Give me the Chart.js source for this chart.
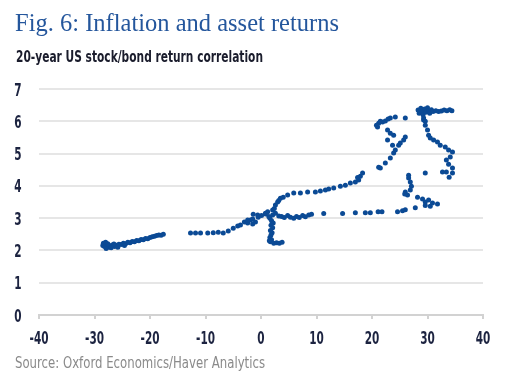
<!DOCTYPE html>
<html>
<head>
<meta charset="utf-8">
<script src="https://cdn.jsdelivr.net/npm/chart.js@4.4.1/dist/chart.umd.min.js"></script>
<style>
  html, body { margin: 0; padding: 0; background: #fff; }
  #wrap { width: 532px; height: 388px; position: relative; }
</style>
</head>
<body>
<div id="wrap"><canvas id="chart" width="532" height="388"></canvas></div>
<script>
// x: 20-year US stock/bond return correlation, y: inflation
const stockBondCorr = [
  -28.5, -28.2, -27.8, -27.5, -27.2, -26.8, -26.4, -26.0, -25.6, -25.2, -24.8, -24.4, -24.0, -23.6, -23.2,
  -22.8, -22.4, -22.0, -21.6, -21.2, -20.8, -20.4, -20.0, -19.6, -19.2, -18.8, -18.4, -18.0, -17.6,
  -28.4, -27.9, -27.0, -26.5, -28.0, -27.6, -25.8, -24.6,
  -12.7, -11.8, -10.9, -9.6, -8.6, -7.7, -6.8, -5.9, -5.0, -4.2, -3.7, -3.0, -2.4, -1.9, -1.5, -1.0, -2.4, -1.5, -0.5,
  -1.4, -0.6, 0.1, 0.8, 1.4, 2.1, 2.6, 3.2, 3.7, 4.2, 4.8, 5.3, 5.9, 6.4, 6.9, 7.5, 8.0, 8.6, 9.1,
  1.6, 1.9, 2.2, 1.8, 2.1, 1.7, 2.0, 1.8, 1.6, 1.9, 1.7, 2.3, 2.8, 3.3, 3.8, 1.5,
  0.8, 1.2, 2.1, 2.4, 2.6, 3.0, 3.2, 3.5, 4.0, 4.8,
  5.9, 7.1, 8.4, 9.8, 10.7, 11.6, 12.2, 13.1, 14.3, 15.2, 16.1, 17.0, 17.6, 17.9, 18.3, 17.4,
  21.2, 21.5, 22.4, 23.3, 23.9, 24.2, 24.8, 25.1, 25.7, 26.0,
  22.8, 23.9, 22.8, 23.3, 23.7,
  21.0, 21.2, 21.9, 22.4, 23.3, 24.2, 26.0, 20.8, 21.5, 22.9,
  28.3, 28.5, 28.8, 29.0, 29.2, 29.5, 29.7, 30.0, 30.2, 30.4, 30.7, 31.0, 31.5, 32.0, 32.5, 33.0, 33.5, 34.0, 34.4, 29.3, 29.6,
  29.3, 29.6, 30.0, 30.2, 30.5, 31.1, 31.8, 32.3, 33.2, 33.8, 34.5, 34.1, 33.4, 33.8, 34.5, 34.5, 33.9, 33.4,
  29.6, 32.7,
  26.6, 26.6, 26.9, 27.1, 26.9, 26.0, 26.4, 25.9, 28.2, 29.1, 29.6, 30.2, 30.9, 30.5, 31.8,
  11.3, 14.7, 17.0, 18.8, 19.7, 21.1, 21.8, 24.6, 25.5, 26.0, 27.8, 29.6
];
const inflation = [
  2.15, 2.12, 2.18, 2.10, 2.14, 2.17, 2.12, 2.16, 2.19, 2.18, 2.22, 2.21, 2.25, 2.24, 2.28,
  2.27, 2.31, 2.30, 2.34, 2.33, 2.37, 2.36, 2.40, 2.42, 2.44, 2.46, 2.48, 2.47, 2.50,
  2.22, 2.06, 2.08, 2.20, 2.25, 2.21, 2.10, 2.15,
  2.54, 2.54, 2.54, 2.54, 2.55, 2.56, 2.54, 2.60, 2.69, 2.76, 2.79, 2.88, 2.85, 2.94, 2.82, 2.88, 2.94, 2.97, 3.03,
  3.12, 3.10, 3.08, 3.13, 3.05, 3.10, 3.15, 3.07, 3.05, 3.02, 3.08, 3.03, 3.00, 3.05, 3.02, 3.08, 3.04, 3.10, 3.12,
  3.00, 2.92, 2.85, 2.78, 2.70, 2.62, 2.55, 2.48, 2.40, 2.33, 2.27, 2.22, 2.24, 2.22, 2.25, 2.30,
  3.15, 3.20, 3.25, 3.30, 3.41, 3.50, 3.55, 3.62, 3.65, 3.72,
  3.78, 3.78, 3.81, 3.81, 3.84, 3.87, 3.90, 3.93, 3.99, 4.02, 4.09, 4.12, 4.18, 4.30, 4.40, 4.26,
  4.58, 4.55, 4.71, 4.86, 5.02, 5.11, 5.26, 5.33, 5.42, 5.51,
  5.73, 5.57, 5.42, 5.63, 5.26,
  5.82, 5.94, 5.98, 6.01, 6.10, 6.13, 6.10, 5.88, 6.00, 6.07,
  6.35, 6.25, 6.40, 6.30, 6.20, 6.38, 6.28, 6.42, 6.33, 6.25, 6.36, 6.30, 6.33, 6.30, 6.32, 6.35, 6.33, 6.36, 6.33, 6.10, 6.00,
  6.04, 5.88, 5.73, 5.57, 5.48, 5.42, 5.36, 5.26, 5.20, 5.11, 5.05, 4.89, 4.80, 4.67, 4.55, 4.40, 4.27, 4.43,
  4.40, 4.43,
  4.33, 4.24, 4.12, 3.99, 3.87, 3.81, 3.72, 3.75, 3.65, 3.59, 3.50, 3.56, 3.47, 3.37, 3.44,
  3.14, 3.14, 3.17, 3.17, 3.17, 3.20, 3.20, 3.20, 3.23, 3.26, 3.32, 3.39
];
const xTicks = [-40, -30, -20, -10, 0, 10, 20, 30, 40];
const yTicks = [0, 1, 2, 3, 4, 5, 6, 7];

const titleText = "Fig. 6: Inflation and asset returns";
const subtitleText = "20-year US stock/bond return correlation";
const sourceText = "Source: Oxford Economics/Haver Analytics";

const points = stockBondCorr.map((x, i) => ({ x: x, y: inflation[i] }));
const condensed = "'Liberation Sans Narrow', 'DejaVu Sans Condensed', sans-serif";

// draw text squeezed/stretched horizontally to a target width
function drawFitted(ctx, text, x, y, font, width, align) {
  ctx.font = font;
  const k = width ? width / ctx.measureText(text).width : 1;
  ctx.save();
  ctx.translate(x, y);
  ctx.scale(k, 1);
  ctx.textAlign = align || "left";
  ctx.fillText(text, 0, 0);
  ctx.restore();
}

// texts and narrow tick labels drawn on top, placed through the chart's scales
const textPlugin = {
  id: "texts",
  afterDraw(chart) {
    const ctx = chart.ctx;
    ctx.save();
    ctx.textBaseline = "alphabetic";
    ctx.fillStyle = "#24569c";
    drawFitted(ctx, titleText, 15, 31, "26px 'Liberation Serif', serif", 324);
    ctx.fillStyle = "#1a1c2c";
    drawFitted(ctx, subtitleText, 16, 61.5, "bold 15px " + condensed, 247);
    ctx.fillStyle = "#8a8a8a";
    drawFitted(ctx, sourceText, 15, 367.5, "15.5px " + condensed, 250);

    const tickFont = "bold 17.5px " + condensed;
    ctx.font = tickFont;
    const squeeze = 7.3 / ctx.measureText("0").width;
    ctx.fillStyle = "#1c2340";
    const xs = chart.scales.x, ys = chart.scales.y;
    xs.ticks.forEach(t => {
      const label = String(t.value);
      ctx.save();
      ctx.translate(xs.getPixelForValue(t.value), 343.5);
      ctx.scale(squeeze, 1);
      ctx.textAlign = "center";
      ctx.fillText(label, 0, 0);
      ctx.restore();
    });
    ys.ticks.forEach(t => {
      const label = String(t.value);
      ctx.save();
      ctx.translate(21.5, ys.getPixelForValue(t.value) + 6.5);
      ctx.scale(squeeze, 1);
      ctx.textAlign = "right";
      ctx.fillText(label, 0, 0);
      ctx.restore();
    });
    ctx.restore();
  }
};

new Chart(document.getElementById("chart"), {
  type: "scatter",
  data: {
    datasets: [{
      data: points,
      backgroundColor: "#0b4a95",
      borderWidth: 0,
      pointRadius: 2.5,
      pointHoverRadius: 2.5
    }]
  },
  options: {
    responsive: false,
    animation: false,
    layout: { padding: { left: 0, right: 49, top: 89, bottom: 38 } },
    plugins: { legend: { display: false }, tooltip: { enabled: false } },
    scales: {
      x: {
        type: "linear",
        min: -40,
        max: 40,
        afterFit: s => { s.height = 35; },
        afterBuildTicks: s => { s.ticks = xTicks.map(v => ({ value: v })); },
        grid: { drawOnChartArea: false, drawTicks: true, tickLength: 4, color: "#d2d2d2", lineWidth: 2 },
        border: { display: true, color: "#d2d2d2", width: 2 },
        ticks: { display: false }
      },
      y: {
        min: 0,
        max: 7,
        afterFit: s => { s.width = 39; },
        afterBuildTicks: s => { s.ticks = yTicks.map(v => ({ value: v })); },
        grid: { drawTicks: false, color: "#e6e6e6", lineWidth: 2 },
        border: { display: false },
        ticks: { display: false }
      }
    }
  },
  plugins: [textPlugin]
});
</script>
</body>
</html>
